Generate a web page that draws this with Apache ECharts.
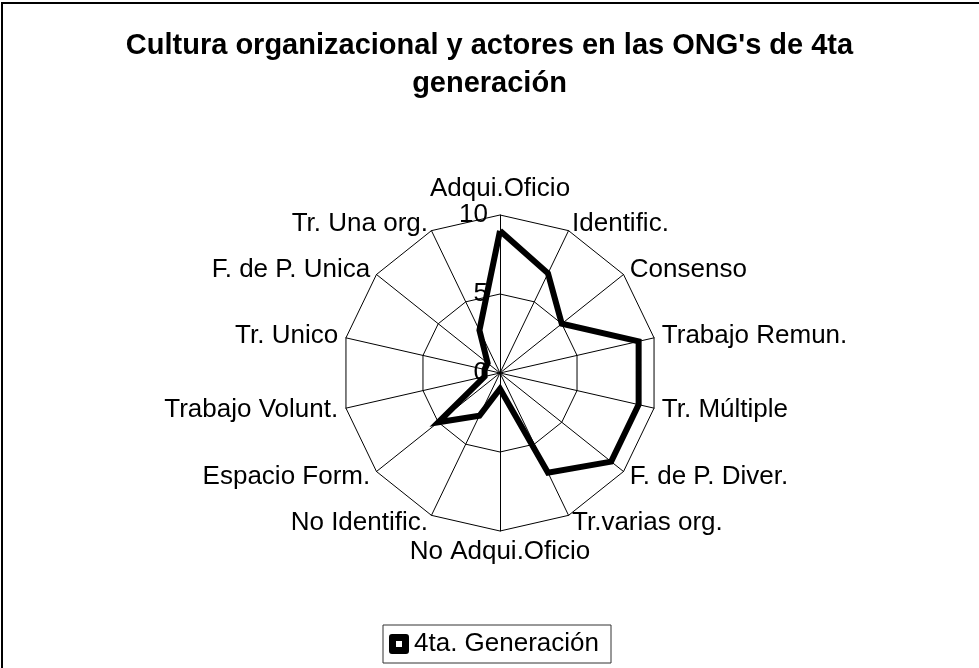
<!DOCTYPE html>
<html>
<head>
<meta charset="utf-8">
<script src="https://cdn.jsdelivr.net/npm/echarts@6/dist/echarts.min.js"></script>
<style>
html,body{margin:0;padding:0;background:#fff;}
#c{width:979px;height:668px;position:absolute;left:0;top:0;}
#frame{position:absolute;left:1px;top:2px;width:2000px;height:2000px;border-left:2px solid #000;border-top:2px solid #000;pointer-events:none;}
</style>
</head>
<body>
<div id="c"></div>
<div id="frame"></div>
<script>
const titleText = "Cultura organizacional y actores en las ONG's de 4ta\ngeneración";
// categories in clockwise order starting from the top
const categories = ["Adqui.Oficio","Identific.","Consenso","Trabajo Remun.","Tr. Múltiple","F. de P. Diver.","Tr.varias org.","No Adqui.Oficio","No Identific.","Espacio Form.","Trabajo Volunt.","Tr. Unico","F. de P. Unica","Tr. Una org."];
const seriesName = "4ta. Generación";
const values = [9,7,5,9,9,9,7,1,3,5,1,1,1,3];
const axisMax = 10;
const axisSplit = 2;

// ECharts radar runs counter-clockwise: keep the first axis on top, reverse the rest
const order = [0].concat(categories.map((_, i) => i).slice(1).reverse());

const FONT = "'Liberation Sans', Arial, sans-serif";
const chart = echarts.init(document.getElementById('c'), null, {renderer:'canvas'});
const indicators = order.map((idx, k) => {
  const o = {name: categories[idx], min: 0, max: axisMax};
  if (k === 0) {
    o.axisLabel = {show: true, color: '#000', fontSize: 26, fontFamily: FONT, margin: 12};
  }
  return o;
});
chart.setOption({
  animation: false,
  backgroundColor: '#fff',
  title: {
    text: titleText,
    left: 'center',
    top: 22,
    textStyle: {fontFamily: FONT, fontWeight: 'bold', fontSize: 29, color: '#000', lineHeight: 38}
  },
  legend: {
    data: [{name: seriesName, icon: 'path://M3,0 H17 Q20,0 20,3 V17 Q20,20 17,20 H3 Q0,20 0,17 V3 Q0,0 3,0 Z M7,7 V13 H13 V7 Z'}],
    left: 383,
    top: 625,
    itemWidth: 20,
    itemHeight: 20,
    padding: [6, 12, 6, 6],
    borderColor: '#333',
    borderWidth: 1,
    textStyle: {fontFamily: FONT, fontSize: 26, color: '#000'}
  },
  radar: {
    center: [500, 373],
    radius: 158,
    startAngle: 90,
    shape: 'polygon',
    splitNumber: axisSplit,
    indicator: indicators,
    axisName: {color: '#000', fontSize: 26, fontFamily: FONT},
    nameGap: 8,
    axisLine: {lineStyle: {color: '#000', width: 1}},
    axisTick: {show: false},
    axisLabel: {show: false},
    splitLine: {lineStyle: {color: '#000', width: 1}},
    splitArea: {show: false}
  },
  series: [{
    type: 'radar',
    name: seriesName,
    symbol: 'none',
    itemStyle: {color: '#000'},
    lineStyle: {color: '#000', width: 6, join: 'miter'},
    data: [{name: seriesName, value: order.map(idx => values[idx])}]
  }]
});
</script>
</body>
</html>
